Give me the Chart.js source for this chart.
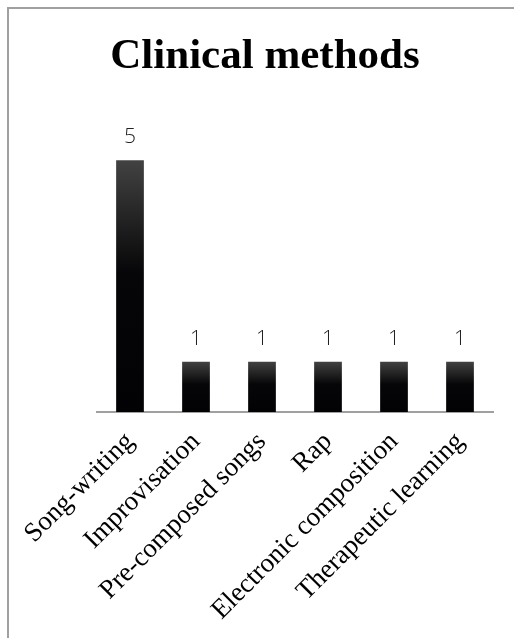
<!DOCTYPE html>
<html>
<head>
<meta charset="utf-8">
<script src="https://cdn.jsdelivr.net/npm/chart.js@4"></script>
<style>
  html, body { margin: 0; padding: 0; background: #fff; }
  #wrap { width: 514px; height: 638px; position: relative; }
</style>
</head>
<body>
<div id="wrap"><canvas id="c" width="514" height="638"></canvas></div>
<script>
const categories = ['Song-writing', 'Improvisation', 'Pre-composed songs', 'Rap', 'Electronic composition', 'Therapeutic learning'];
const counts = [5, 1, 1, 1, 1, 1];
const chartTitle = 'Clinical methods';

// Vertical shading per bar: grey at the top fading to black halfway down
function barFill(context) {
  const chart = context.chart;
  const area = chart.chartArea;
  if (!area || context.raw == null) return '#111';
  const y = chart.scales.y;
  const top = y.getPixelForValue(context.raw);
  const base = y.getPixelForValue(0);
  const g = chart.ctx.createLinearGradient(0, top, 0, base);
  g.addColorStop(0, '#424242');
  g.addColorStop(0.45, '#060608');
  g.addColorStop(1, '#020204');
  return g;
}

// Frame lines along the left and top edges, plus the heading
const framePlugin = {
  id: 'frame',
  beforeDraw(chart) {
    const ctx = chart.ctx;
    ctx.save();
    ctx.fillStyle = '#fff';
    ctx.fillRect(0, 0, chart.width, chart.height);
    ctx.strokeStyle = '#a0a0a0';
    ctx.lineWidth = 2;
    ctx.beginPath();
    ctx.moveTo(8, chart.height);
    ctx.lineTo(8, 8);
    ctx.lineTo(chart.width, 8);
    ctx.stroke();
    ctx.fillStyle = '#000';
    ctx.font = 'bold 43px "Liberation Serif", "Times New Roman", serif';
    ctx.textAlign = 'center';
    ctx.textBaseline = 'alphabetic';
    ctx.fillText(chartTitle, 265, 68);
    ctx.restore();
  }
};

// Value labels above each bar
const valueLabels = {
  id: 'valueLabels',
  afterDatasetsDraw(chart) {
    const ctx = chart.ctx;
    const meta = chart.getDatasetMeta(0);
    ctx.save();
    ctx.font = '300 21px "Open Sans", "Liberation Sans", sans-serif';
    ctx.fillStyle = '#222';
    ctx.textAlign = 'center';
    ctx.textBaseline = 'alphabetic';
    meta.data.forEach((bar, i) => {
      ctx.fillText(String(counts[i]), bar.x, bar.y - 17);
    });
    ctx.restore();
  }
};

new Chart(document.getElementById('c'), {
  type: 'bar',
  data: {
    labels: categories,
    datasets: [{
      data: counts,
      backgroundColor: barFill,
      borderWidth: 0,
      barPercentage: 0.42,
      categoryPercentage: 1.0
    }]
  },
  options: {
    responsive: false,
    animation: false,
    devicePixelRatio: 1,
    layout: { padding: { left: 97, right: 21, top: 110, bottom: 0 } },
    plugins: {
      legend: { display: false },
      tooltip: { enabled: false },
      title: { display: false }
    },
    scales: {
      x: {
        grid: { display: false, drawTicks: false },
        border: { color: '#a0a0a0', width: 2 },
        afterFit(scale) { scale.height = 226; },
        ticks: {
          minRotation: 45,
          maxRotation: 45,
          padding: 14,
          color: '#000',
          font: { family: '"Liberation Serif", "Times New Roman", serif', size: 27 }
        }
      },
      y: {
        display: false,
        min: 0,
        max: 6
      }
    }
  },
  plugins: [framePlugin, valueLabels]
});
</script>
</body>
</html>
